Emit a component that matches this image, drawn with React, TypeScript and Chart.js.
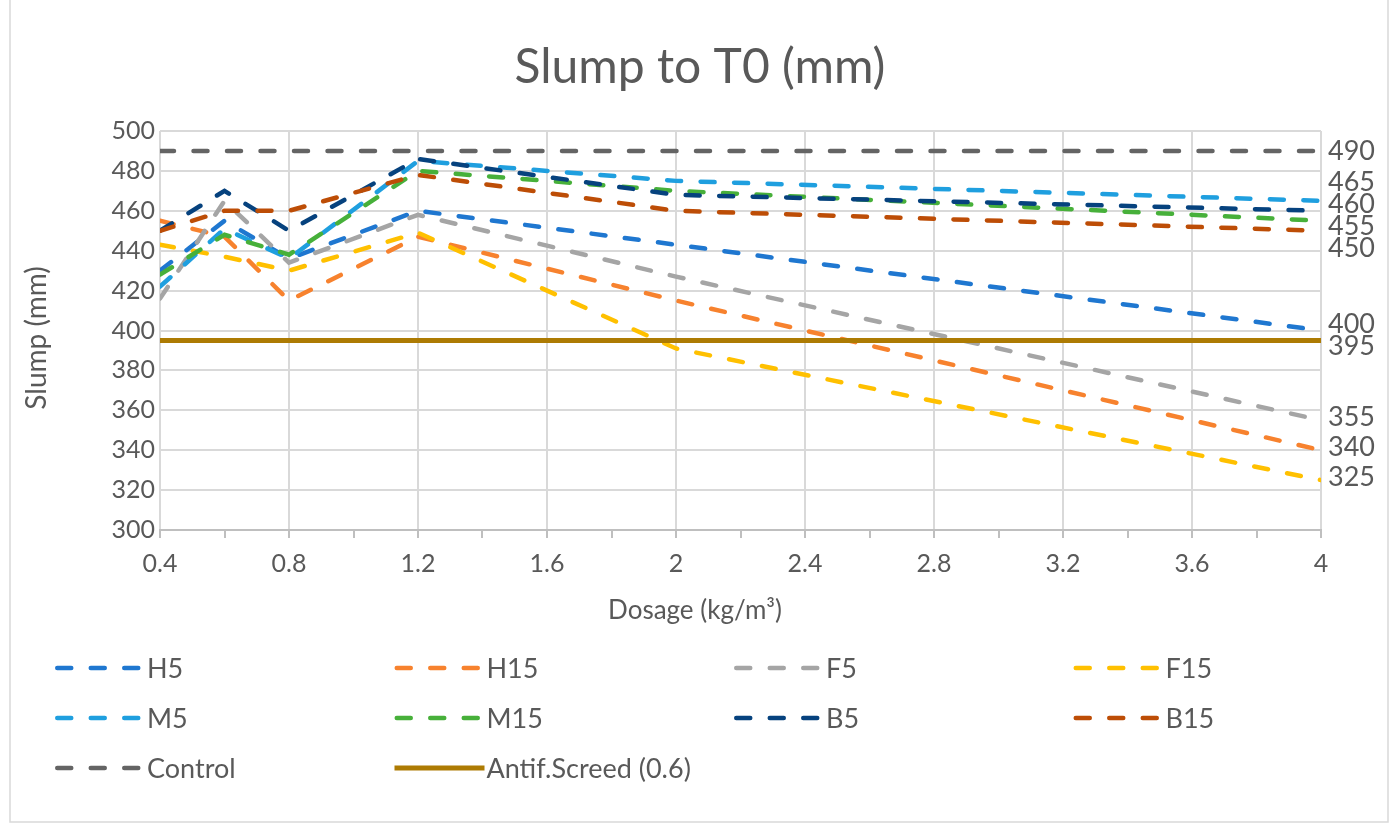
import React, { useEffect, useRef } from 'react';
import { Chart, registerables } from 'chart.js';

Chart.register(...registerables);

// ---- data ----
const dosage = [0.4, 0.6, 0.8, 1.2, 2, 4];
const H5 = [430, 455, 436, 460, 443, 400];
const H15 = [455, 447, 415, 447, 415, 340];
const F5 = [416, 465, 434, 458, 427, 355];
const F15 = [443, 437, 430, 449, 391, 325];
const M5 = [422, 451, 436, 485, 475, 465];
const M15 = [428, 448, 438, 480, 470, 455];
const B5 = [450, 470, 450, 486, 468, 460];
const B15 = [450, 460, 460, 478, 460, 450];
const Control = [490, 490, 490, 490, 490, 490];
const Antif = [395, 395, 395, 395, 395, 395];

const seriesNames = ['H5', 'H15', 'F5', 'F15', 'M5', 'M15', 'B5', 'B15', 'Control', 'Antif.Screed (0.6)'];
const seriesColors = ['#1f77d0', '#f7822e', '#a5a5a5', '#ffc000', '#1f9fdf', '#47b03a', '#06427e', '#bd4d06', '#646464', '#ad7b03'];

const titleText = 'Slump to T0 (mm)';
const xTitle = 'Dosage (kg/m\u00B3)';
const yTitle = 'Slump (mm)';

const FONT = 'Lato, "Open Sans", sans-serif';
const TEXT = '#595959';

export default function App() {
  const ref = useRef<HTMLCanvasElement>(null);

  useEffect(() => {
    const values = [H5, H15, F5, F15, M5, M15, B5, B15, Control, Antif];
    const n = values.length;
    const datasets = values.map((vals, i) => ({
      label: seriesNames[i],
      data: dosage.map((x, j) => ({ x, y: vals[j] })),
      borderColor: seriesColors[i],
      backgroundColor: seriesColors[i],
      borderWidth: i === n - 1 ? 5 : 4.5,
      borderDash: i === n - 1 ? [] : [14, 19.5],
      borderCapStyle: i === n - 1 ? 'butt' : 'round',
      pointRadius: 0,
      pointHoverRadius: 0,
      tension: 0,
      fill: false,
      order: n - i,
    }));

    const overlay = {
      id: 'overlay',
      afterDraw(chart: any) {
        const ctx = chart.ctx as CanvasRenderingContext2D;
        const area = chart.chartArea;
        ctx.save();
        // chart border
        ctx.strokeStyle = '#d9d9d9';
        ctx.lineWidth = 1.5;
        ctx.beginPath();
        ctx.moveTo(10, 0);
        ctx.lineTo(10, 822);
        ctx.lineTo(1388, 822);
        ctx.lineTo(1388, 0);
        ctx.stroke();

        ctx.fillStyle = TEXT;
        // title
        ctx.font = `48px ${FONT}`;
        ctx.textAlign = 'center';
        ctx.textBaseline = 'middle';
        ctx.fillText(titleText, 700, 68);

        // axis titles
        ctx.font = `26px ${FONT}`;
        ctx.fillText(xTitle, 695, 611);
        ctx.font = `28px ${FONT}`;
        ctx.save();
        ctx.translate(37, 338);
        ctx.rotate(-Math.PI / 2);
        ctx.fillText(yTitle, 0, 0);
        ctx.restore();

        // legend
        chart.data.datasets.forEach((ds: any, i: number) => {
          const col = i % 4;
          const row = Math.floor(i / 4);
          const x0 = 55 + col * 339.5;
          const y0 = 668 + row * 50;
          ctx.save();
          ctx.strokeStyle = ds.borderColor;
          ctx.lineWidth = ds.borderWidth;
          ctx.lineCap = ds.borderCapStyle;
          ctx.setLineDash(ds.borderDash);
          ctx.beginPath();
          ctx.moveTo(x0 + (ds.borderDash.length ? 2.25 : 0), y0);
          ctx.lineTo(x0 + 90, y0);
          ctx.stroke();
          ctx.restore();
          ctx.font = `27px ${FONT}`;
          ctx.textAlign = 'left';
          ctx.textBaseline = 'middle';
          ctx.fillStyle = TEXT;
          ctx.fillText(ds.label, x0 + 92, y0 + 1);
        });

        // end-of-line data labels with simple collision avoidance
        const yScale = chart.scales.y;
        const items = chart.data.datasets.map((ds: any) => {
          const last = ds.data[ds.data.length - 1].y;
          return { text: String(last), y: yScale.getPixelForValue(last) };
        }).sort((a: any, b: any) => a.y - b.y);
        const gap = 22;
        let clusters = items.map((it: any) => ({ items: [it], center: it.y }));
        let merged = true;
        while (merged) {
          merged = false;
          for (let k = 0; k < clusters.length - 1; k++) {
            const a = clusters[k];
            const b = clusters[k + 1];
            const aBottom = a.center + ((a.items.length - 1) * gap) / 2;
            const bTop = b.center - ((b.items.length - 1) * gap) / 2;
            if (bTop - aBottom < gap) {
              const its = a.items.concat(b.items);
              const center = its.reduce((s: number, t: any) => s + t.y, 0) / its.length;
              clusters.splice(k, 2, { items: its, center });
              merged = true;
              break;
            }
          }
        }
        ctx.font = `27px ${FONT}`;
        ctx.textAlign = 'left';
        ctx.textBaseline = 'middle';
        ctx.fillStyle = TEXT;
        clusters.forEach((c: any) => {
          const top = c.center - ((c.items.length - 1) * gap) / 2;
          c.items.forEach((it: any, j: number) => {
            const yy = top + j * gap;
            ctx.fillText(it.text, area.right + 7, c.items.length === 1 && yy > 400 ? yy - 3 : yy);
          });
        });
        ctx.restore();
      },
    };

    const chart = new Chart(ref.current as HTMLCanvasElement, {
      type: 'line',
      data: { datasets } as any,
      options: {
        animation: false,
        responsive: false,
        maintainAspectRatio: false,
        events: [],
        layout: { padding: { top: 131, left: 10, right: 73, bottom: 187 } },
        plugins: {
          legend: { display: false },
          title: { display: false },
          tooltip: { enabled: false },
        },
        scales: {
          x: {
            type: 'linear',
            min: 0.4,
            max: 4,
            ticks: {
              stepSize: 0.2,
              autoSkip: false,
              maxRotation: 0,
              color: TEXT,
              padding: 11,
              font: { family: FONT, size: 25 },
              callback: (v: any, idx: number) => (idx % 2 === 0 ? String(+Number(v).toFixed(1)) : ''),
            },
            grid: {
              color: (c: any) => (c.index % 2 === 0 ? '#d9d9d9' : 'rgba(0,0,0,0)'),
              lineWidth: 2,
              tickColor: '#bfbfbf',
              tickLength: 8,
              drawTicks: true,
            },
            border: { color: '#bfbfbf', width: 2 },
            afterFit: (s: any) => {
              s.height = 110;
            },
          },
          y: {
            min: 300,
            max: 500,
            ticks: {
              stepSize: 20,
              color: TEXT,
              padding: 5,
              font: { family: FONT, size: 25 },
            },
            grid: { color: '#d9d9d9', lineWidth: 2, drawTicks: false },
            border: { display: false },
            afterFit: (s: any) => {
              s.width = 150;
            },
          },
        },
      } as any,
      plugins: [overlay],
    });
    return () => chart.destroy();
  }, []);

  return (
    <div style={{ position: 'absolute', left: 0, top: 0, width: 1394, height: 827, background: '#ffffff' }}>
      <canvas ref={ref} width={1394} height={827} style={{ width: 1394, height: 827, display: 'block' }} />
    </div>
  );
}
